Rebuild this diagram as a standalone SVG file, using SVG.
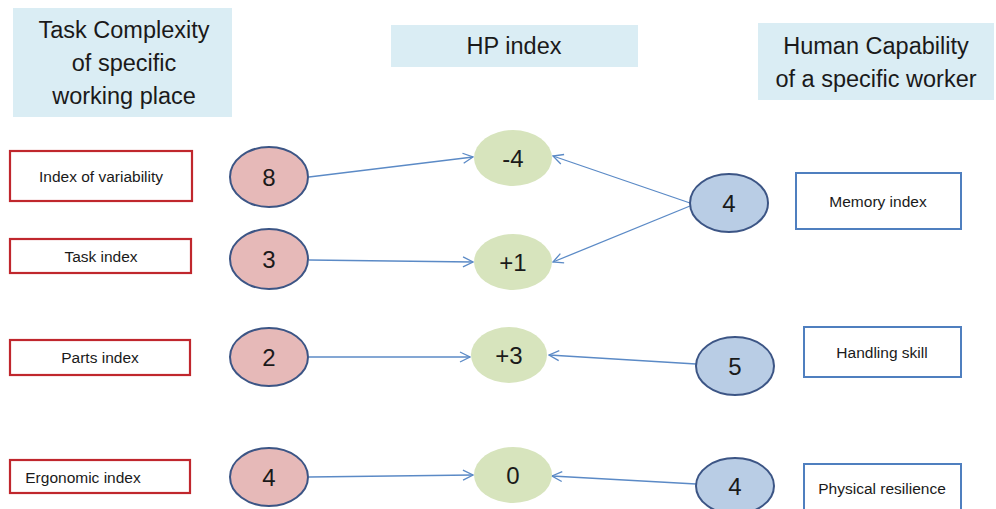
<svg xmlns="http://www.w3.org/2000/svg" width="996" height="509" viewBox="0 0 996 509">
<defs>
<style>
text{font-family:"Liberation Sans",Arial,sans-serif;fill:#1a1a1a;text-anchor:middle;dominant-baseline:central}
.hdr{fill:#daedf4}
.ht{font-size:23.5px}
.lbl{font-size:15.5px}
.num{font-size:24px}
.red{fill:#fff;stroke:#c0272d;stroke-width:2.2}
.blu{fill:#fff;stroke:#4f7fbf;stroke-width:2}
.pink{fill:#e6b9b8;stroke:#3c5585;stroke-width:2}
.green{fill:#d7e4bd}
.lblue{fill:#b9cde5;stroke:#3c5585;stroke-width:2}
.con{stroke:#5b8ac6;stroke-width:1.3;fill:none;marker-end:url(#arr)}
</style>
<marker id="arr" viewBox="0 0 12 12" refX="11" refY="6" markerWidth="12" markerHeight="12" markerUnits="userSpaceOnUse" orient="auto">
<path d="M1,1 L11,6 L1,11" fill="none" stroke="#5b8ac6" stroke-width="1.3"/>
</marker>
</defs>
<rect width="996" height="509" fill="#fff"/>
<g id="hdr-task">
<rect class="hdr" x="13" y="8" width="219" height="109"/>
<text class="ht" x="124" y="30">Task Complexity</text>
<text class="ht" x="124" y="63">of specific</text>
<text class="ht" x="124" y="96">working place</text>
</g>
<g id="hdr-hp">
<rect class="hdr" x="391" y="25" width="247" height="42"/>
<text class="ht" x="514" y="46">HP index</text>
</g>
<g id="hdr-human">
<rect class="hdr" x="758" y="23" width="236" height="77"/>
<text class="ht" x="876" y="46">Human Capability</text>
<text class="ht" x="876" y="79">of a specific worker</text>
</g>
<g id="connectors">
<line class="con" x1="309" y1="177" x2="473" y2="157"/>
<line class="con" x1="309" y1="260" x2="473" y2="262"/>
<line class="con" x1="690" y1="203" x2="553" y2="156"/>
<line class="con" x1="690" y1="206" x2="553" y2="262"/>
<line class="con" x1="309" y1="357" x2="470" y2="357"/>
<line class="con" x1="696" y1="364" x2="549" y2="355"/>
<line class="con" x1="309" y1="477" x2="473" y2="475"/>
<line class="con" x1="696" y1="484" x2="552" y2="476"/>
</g>
<g id="lbl-variability"><rect class="red" x="10" y="151" width="182" height="50"/><text class="lbl" x="101" y="176">Index of variability</text></g>
<g id="lbl-task"><rect class="red" x="10" y="239" width="181" height="34"/><text class="lbl" x="101" y="256">Task index</text></g>
<g id="lbl-parts"><rect class="red" x="10" y="340" width="180" height="35"/><text class="lbl" x="100" y="357">Parts index</text></g>
<g id="lbl-ergo"><rect class="red" x="10" y="460" width="180" height="33"/><text class="lbl" x="83" y="477">Ergonomic index</text></g>
<g id="c-8"><ellipse class="pink" cx="269" cy="177" rx="39" ry="30"/><text class="num" x="269" y="177">8</text></g>
<g id="c-3"><ellipse class="pink" cx="269" cy="259" rx="39" ry="30"/><text class="num" x="269" y="259">3</text></g>
<g id="c-2"><ellipse class="pink" cx="269" cy="357" rx="39" ry="29"/><text class="num" x="269" y="357">2</text></g>
<g id="c-4"><ellipse class="pink" cx="269" cy="477" rx="39" ry="29"/><text class="num" x="269" y="477">4</text></g>
<g id="hp-m4"><ellipse class="green" cx="513" cy="158" rx="39" ry="28"/><text class="num" x="513" y="158">-4</text></g>
<g id="hp-p1"><ellipse class="green" cx="513" cy="262" rx="39" ry="28"/><text class="num" x="513" y="262">+1</text></g>
<g id="hp-p3"><ellipse class="green" cx="509" cy="355" rx="38" ry="28"/><text class="num" x="509" y="355">+3</text></g>
<g id="hp-0"><ellipse class="green" cx="513" cy="475" rx="39" ry="28"/><text class="num" x="513" y="475">0</text></g>
<g id="w-memory"><ellipse class="lblue" cx="729" cy="203" rx="39" ry="29"/><text class="num" x="729" y="203">4</text></g>
<g id="w-handling"><ellipse class="lblue" cx="735" cy="366" rx="39" ry="29"/><text class="num" x="735" y="366">5</text></g>
<g id="w-physical"><ellipse class="lblue" cx="735" cy="486" rx="39" ry="28"/><text class="num" x="735" y="486">4</text></g>
<g id="lbl-memory"><rect class="blu" x="796" y="173" width="165" height="56"/><text class="lbl" x="878" y="201">Memory index</text></g>
<g id="lbl-handling"><rect class="blu" x="804" y="327" width="157" height="50"/><text class="lbl" x="882" y="352">Handling skill</text></g>
<g id="lbl-physical"><rect class="blu" x="804" y="464" width="157" height="50"/><text class="lbl" x="882" y="488">Physical resilience</text></g>
</svg>
